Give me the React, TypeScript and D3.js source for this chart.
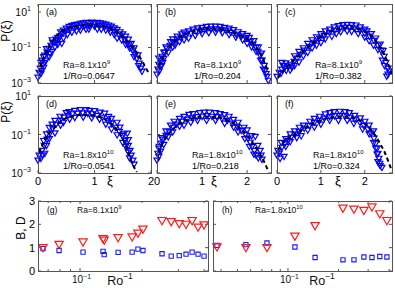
import React, { useEffect, useRef } from 'react'
import * as d3 from 'd3'

// PDF panels: [xi, log10 P(xi)]
const pdfA = [[0,-2.66],[0.02,-2.38],[0.04,-2.15],[0.05,-1.82],[0.07,-2.27],[0.07,-1.7],[0.09,-1.93],[0.12,-1.82],[0.12,-1.42],[0.16,-1.25],[0.19,-1.03],[0.21,-1.31],[0.23,-0.86],[0.26,-0.69],[0.3,-0.69],[0.32,-0.52],[0.35,-0.58],[0.35,-0.41],[0.39,-0.35],[0.42,-0.75],[0.44,-0.18],[0.49,-0.07],[0.56,0.04],[0.65,0.12],[0.74,0.18],[0.82,0.22],[0.91,0.25],[1.0,0.22],[1.09,0.25],[1.18,0.18],[1.26,0.08],[1.35,-0.07],[1.44,-0.3],[1.53,-0.52],[1.58,-0.75],[1.61,-0.8],[1.65,-1.03],[1.68,-1.14],[1.72,-1.37],[1.75,-1.59],[1.79,-1.87],[1.82,-2.15],[1.84,-2.32],
  [0.5,0.1],[0.6,0.26],[0.7,0.33],[0.8,0.4],[0.9,0.42],[1.0,0.4],[1.1,0.4],[1.2,0.33],[1.3,0.22],[1.4,0.03],[1.5,-0.22],[1.6,-0.52],
  [0.6,-0.12],[0.75,0.0],[0.9,0.06],[1.05,0.06],[1.2,0.0],[1.35,-0.25],[1.48,-0.55],[1.62,-1.0],[0.3,-0.95],[0.2,-1.5],
  [0.1,-1.5],[0.15,-1.05],[0.25,-0.55],[0.4,-0.1],[0.45,0.0],[0.55,0.2],[0.65,0.3],[0.75,0.38],[0.85,0.43],[0.95,0.45],[1.05,0.43],[1.15,0.38],[1.25,0.28],[1.35,0.12],[1.45,-0.1],[1.55,-0.35],[1.65,-0.75],[1.7,-1.0],[1.77,-1.4],
  [0.05,-2.45],[0.1,-2.1],[0.14,-1.7],[0.25,-1.2],[0.35,-0.8],[0.45,-0.45],[0.52,-0.25],[0.68,-0.05],[0.85,0.05],[1.12,0.05],[1.28,-0.12],[1.4,-0.45],[1.55,-0.8],[1.7,-1.5],[1.78,-2.0]]
const fitA = [[0,-2.49],[0.07,-1.82],[0.18,-1.03],[0.3,-0.46],[0.47,-0.01],[0.65,0.18],[0.88,0.25],[1.09,0.22],[1.26,0.1],[1.44,-0.24],[1.58,-0.63],[1.7,-1.08],[1.81,-1.59],[1.89,-2.04],[1.96,-2.44]]

const pdfB = [[0,-2.49],[0.02,-2.21],[0.04,-1.93],[0.09,-1.7],[0.11,-1.48],[0.18,-1.25],[0.22,-1.03],[0.29,-0.86],[0.36,-0.69],[0.44,-0.52],[0.53,-0.41],[0.64,-0.3],[0.76,-0.18],[0.87,-0.07],[0.98,-0.01],[1.09,0.04],[1.2,0.07],[1.31,0.07],[1.42,0.04],[1.53,-0.01],[1.64,-0.13],[1.76,-0.24],[1.87,-0.35],[1.98,-0.46],[2.07,-0.63],[2.13,-0.8],[2.2,-0.97],[2.24,-1.2],[2.29,-1.42],[2.33,-1.7],[2.38,-1.99],[2.4,-2.27],[2.44,-2.61],[2.47,-2.83],
  [0.07,-2.04],[0.13,-1.82],[0.04,-1.59],
  [0.6,-0.12],[0.9,0.12],[1.2,0.22],[1.5,0.15],[1.8,-0.1],[2.05,-0.42],[0.35,-0.5],[0.15,-1.25],
  [0.7,-0.45],[1.0,-0.2],[1.3,-0.12],[1.6,-0.25],[1.9,-0.55],[2.2,-1.2],[0.4,-0.85],[0.1,-2.0],[0.05,-2.3],
  [0.2,-0.95],[0.3,-0.65],[0.45,-0.35],[0.55,-0.22],[0.7,-0.05],[0.8,0.05],[1.0,0.15],[1.1,0.2],[1.3,0.22],[1.4,0.2],[1.6,0.1],[1.7,0.02],[1.9,-0.2],[2.0,-0.3],[2.15,-0.6],[2.25,-0.95],[2.32,-1.3],
  [0.15,-1.6],[0.25,-1.25],[0.35,-0.95],[0.5,-0.65],[0.6,-0.55],[0.85,-0.3],[1.15,-0.15],[1.45,-0.15],[1.75,-0.4],[2.0,-0.75],[2.1,-0.95],[2.3,-1.7],[2.36,-2.2],[2.42,-2.45]]
const fitB = [[0.04,-2.04],[0.16,-1.42],[0.31,-0.86],[0.49,-0.46],[0.71,-0.18],[0.93,-0.01],[1.16,0.07],[1.38,0.04],[1.6,-0.07],[1.82,-0.3],[2.0,-0.52],[2.16,-0.86],[2.27,-1.25],[2.38,-1.82],[2.47,-2.38]]

const pdfC = [[0,-2.61],[0.05,-2.38],[0.11,-2.21],[0.18,-2.1],[0.25,-2.04],[0.32,-1.93],[0.39,-1.76],[0.46,-1.59],[0.53,-1.37],[0.62,-1.14],[0.74,-0.92],[0.85,-0.69],[0.97,-0.46],[1.08,-0.3],[1.2,-0.13],[1.31,-0.01],[1.43,0.1],[1.54,0.15],[1.66,0.15],[1.77,0.1],[1.89,-0.01],[2.0,-0.18],[2.11,-0.35],[2.21,-0.58],[2.3,-0.86],[2.37,-1.14],[2.44,-1.48],[2.48,-1.82],[2.53,-2.15],[2.53,-2.49],
  [0.09,-2.44],[0.21,-2.27],[0.34,-2.1],[0.14,-1.99],[0.11,-1.82],
  [1.2,0.05],[1.5,0.3],[1.8,0.28],[2.05,-0.05],[0.8,-0.55],[0.5,-1.2],
  [1.0,-0.7],[1.35,-0.2],[1.7,-0.08],[2.0,-0.4],[2.3,-1.1],[0.6,-1.45],[0.3,-2.25],[2.5,-2.6],
  [0.2,-1.85],[0.4,-1.45],[0.6,-1.0],[0.7,-0.75],[0.9,-0.38],[1.0,-0.2],[1.1,-0.05],[1.3,0.18],[1.4,0.25],[1.6,0.32],[1.7,0.3],[1.9,0.18],[2.0,0.05],[2.15,-0.2],[2.25,-0.45],[2.35,-0.8],[2.42,-1.15],
  [0.4,-2.0],[0.5,-1.8],[0.7,-1.25],[0.8,-1.0],[0.9,-0.85],[1.1,-0.5],[1.25,-0.35],[1.45,-0.1],[1.6,-0.05],[1.85,-0.2],[2.1,-0.6],[2.2,-0.85],[2.4,-1.7],[2.45,-2.0],[2.55,-2.3]]
const fitC = [[0.02,-2.72],[0.16,-2.27],[0.32,-1.87],[0.51,-1.42],[0.74,-0.92],[0.97,-0.46],[1.2,-0.13],[1.43,0.07],[1.66,0.13],[1.89,0.01],[2.11,-0.3],[2.3,-0.8],[2.44,-1.37],[2.55,-2.04],[2.62,-2.55]]

const pdfD = [[0,-2.32],[0.02,-2.06],[0.05,-2.22],[0.07,-1.81],[0.11,-1.55],[0.12,-1.96],[0.16,-1.23],[0.21,-0.92],[0.26,-0.66],[0.32,-0.45],[0.39,-0.25],[0.46,-0.09],[0.53,0.01],[0.61,0.09],[0.7,0.12],[0.79,0.14],[0.88,0.12],[0.96,0.09],[1.05,0.01],[1.14,-0.09],[1.23,-0.25],[1.3,-0.4],[1.37,-0.61],[1.44,-0.82],[1.49,-1.03],[1.54,-1.29],[1.6,-1.55],[1.63,-1.81],[1.65,-2.06],[1.68,-2.32],[1.7,-2.53],
  [0.39,-0.04],[0.65,0.27],[0.91,0.27],[1.18,0.12],[1.4,-0.35],[1.58,-0.92],[0.2,-0.62],
  [0.56,-0.19],[0.8,-0.08],[1.09,-0.19],[1.3,-0.7],[1.5,-1.4],[0.3,-0.9],
  [0.1,-1.3],[0.15,-0.95],[0.25,-0.45],[0.3,-0.25],[0.5,0.15],[0.55,0.2],[0.75,0.3],[0.85,0.3],[1.0,0.25],[1.1,0.18],[1.25,-0.05],[1.3,-0.15],[1.45,-0.6],[1.52,-0.95],[1.6,-1.25],
  [0.08,-2.05],[0.15,-1.55],[0.2,-1.2],[0.4,-0.5],[0.45,-0.35],[0.65,-0.1],[0.95,-0.12],[1.2,-0.45],[1.4,-1.0],[1.55,-1.6],[1.6,-1.9],[1.62,-2.2]]
const fitD = [[0.02,-1.96],[0.12,-1.29],[0.25,-0.77],[0.39,-0.35],[0.56,-0.09],[0.74,0.01],[0.91,0.01],[1.09,-0.09],[1.26,-0.35],[1.4,-0.77],[1.51,-1.29],[1.61,-2.06],[1.68,-2.58],[1.75,-2.95]]

const pdfE = [[0,-2.32],[0.02,-1.96],[0.04,-1.7],[0.09,-1.44],[0.13,-1.23],[0.2,-1.03],[0.27,-0.82],[0.36,-0.61],[0.44,-0.45],[0.56,-0.3],[0.67,-0.19],[0.78,-0.12],[0.89,-0.06],[1.0,-0.04],[1.11,-0.01],[1.22,-0.04],[1.33,-0.06],[1.44,-0.14],[1.56,-0.25],[1.67,-0.4],[1.78,-0.56],[1.87,-0.77],[1.96,-0.97],[2.02,-1.18],[2.07,-1.39],[2.11,-1.6],[2.16,-1.81],[2.2,-2.06],
  [0.04,-2.12],[2.18,-1.08],[2.24,-1.55],[2.29,-1.81],[2.31,-2.06],[2.33,-2.27],
  [0.38,-0.3],[0.71,0.06],[1.16,0.17],[1.6,-0.04],[1.93,-0.61],
  [0.5,-0.55],[0.9,-0.25],[1.3,-0.25],[1.7,-0.6],
  [0.05,-1.6],[0.1,-1.15],[0.2,-0.8],[0.3,-0.5],[0.5,-0.15],[0.6,-0.05],[0.8,0.1],[0.95,0.15],[1.05,0.18],[1.3,0.15],[1.4,0.1],[1.5,0.05],[1.7,-0.2],[1.8,-0.35],[2.0,-0.75],[2.1,-1.05],
  [0.08,-1.85],[0.15,-1.5],[0.25,-1.1],[0.35,-0.85],[0.6,-0.5],[0.75,-0.35],[1.1,-0.25],[1.5,-0.4],[1.8,-0.85],[1.95,-1.2],[2.05,-1.6],[2.15,-2.0],[2.25,-2.2]]
const fitE = [[0,-2.32],[0.09,-1.65],[0.22,-1.08],[0.38,-0.66],[0.6,-0.3],[0.82,-0.14],[1.04,-0.06],[1.27,-0.09],[1.49,-0.19],[1.71,-0.45],[1.93,-0.87],[2.11,-1.39],[2.27,-1.96],[2.38,-2.43],[2.47,-2.9]]

const pdfF = [[0,-2.06],[0.02,-1.81],[0.07,-2.22],[0.11,-1.65],[0.16,-2.12],[0.18,-1.44],[0.25,-1.29],[0.32,-1.13],[0.41,-0.97],[0.51,-0.82],[0.62,-0.66],[0.74,-0.51],[0.85,-0.35],[0.97,-0.25],[1.08,-0.14],[1.2,-0.06],[1.31,-0.01],[1.43,0.01],[1.54,-0.01],[1.66,-0.09],[1.77,-0.19],[1.89,-0.35],[1.98,-0.51],[2.07,-0.71],[2.14,-0.92],[2.21,-1.18],[2.25,-1.44],[2.28,-1.7],[2.3,-1.96],[2.32,-2.22],[2.34,-2.48],[2.39,-2.69],
  [0.51,-0.61],[0.97,-0.04],[1.43,0.22],[1.77,0.01],[2.0,-0.3],
  [0.7,-0.75],[1.2,-0.25],[1.6,-0.25],[2.1,-0.95],[2.3,-2.4],[2.35,-2.6],
  [0.1,-1.4],[0.2,-1.2],[0.3,-0.95],[0.4,-0.8],[0.6,-0.5],[0.75,-0.3],[0.85,-0.15],[1.1,0.08],[1.2,0.15],[1.3,0.2],[1.55,0.2],[1.65,0.15],[1.9,-0.12],[2.1,-0.5],[2.2,-0.8],
  [0.05,-1.95],[0.2,-1.6],[0.3,-1.35],[0.45,-1.15],[0.55,-1.05],[0.85,-0.6],[1.0,-0.45],[1.4,-0.25],[1.75,-0.4],[1.95,-0.7],[2.2,-1.4],[2.25,-1.7],[2.28,-2.0]]
const fitF = [[0.02,-1.81],[0.16,-1.39],[0.39,-1.03],[0.62,-0.71],[0.85,-0.4],[1.08,-0.19],[1.31,-0.09],[1.54,-0.06],[1.77,-0.17],[2.0,-0.45],[2.18,-0.87],[2.34,-1.44],[2.46,-1.96],[2.55,-2.48],[2.62,-2.9]]

// (g) Ra=8.1e9 and (h) Ra=1.8e10: 1/Ro, B (triangles), D (squares)
const roG = [0.0661,0.0791,0.1034,0.1293,0.131,0.153,0.179,0.191,0.202,0.25,0.277,0.303,0.327,0.35,0.374,0.4]
const bG = [1.03,1.17,1.27,1.41,1.35,1.46,1.49,1.65,1.82,2.19,2.14,2.06,2.03,2.19,1.91,2.0]
const dG = [0.96,0.88,0.81,0.84,0.7,0.8,0.81,0.94,0.88,0.74,0.64,0.66,0.72,0.81,0.72,0.64]
const roH = [0.0378,0.0562,0.075,0.11,0.145,0.2125,0.247,0.283,0.316,0.352,0.388]
const bH = [1.06,1.03,1.03,1.52,1.97,2.72,2.68,2.62,2.77,2.48,2.19]
const dH = [1.1,1.13,1.2,1.03,0.58,0.48,0.48,0.6,0.58,0.62,0.6]

const cols = [{ l: 38, r: 151, xmax: 2, xl: 110 }, { l: 157, r: 271, xmax: 2.53, xl: 214 }, { l: 277, r: 392, xmax: 2.62, xl: 338 }]
const rows = [{ t: 4, b: 83, ytop: Math.pow(10, 1.45), py: 31 }, { t: 96, b: 173, ytop: 10, py: 112 }]
const panels = [
  { tag: '(a)', pts: pdfA, fit: fitA, c: 0, r: 0, ra: '8.1', e: '9', ro: '0.0647', tx: 25 },
  { tag: '(b)', pts: pdfB, fit: fitB, c: 1, r: 0, ra: '8.1', e: '9', ro: '0.204', tx: 37 },
  { tag: '(c)', pts: pdfC, fit: fitC, c: 2, r: 0, ra: '8.1', e: '9', ro: '0.382', tx: 38 },
  { tag: '(d)', pts: pdfD, fit: fitD, c: 0, r: 1, ra: '1.8', e: '10', ro: '0.0541', tx: 25 },
  { tag: '(e)', pts: pdfE, fit: fitE, c: 1, r: 1, ra: '1.8', e: '10', ro: '0.218', tx: 35 },
  { tag: '(f)', pts: pdfF, fit: fitF, c: 2, r: 1, ra: '1.8', e: '10', ro: '0.324', tx: 36 },
]

const FONT = 'Liberation Sans, Arial, Helvetica, sans-serif'
const AX = '#555'

function App() {
  const ref = useRef(null)

  useEffect(() => {
    const svg = d3.select(ref.current)
    svg.selectAll('*').remove()
    svg.style('font-family', FONT)

    const tri = d3.symbol().type(d3.symbolTriangle).size(16)()
    const sq = d3.symbol().type(d3.symbolSquare).size(18)()

    const frame = (l, r, t, b) => {
      svg.append('rect').attr('x', l + 0.5).attr('y', t + 0.5).attr('width', r - l).attr('height', b - t)
        .attr('fill', 'none').attr('stroke', AX).attr('stroke-width', 1)
    }
    const sup = (sel, x, y, base, ex, fs, anchor) => {
      const t = sel.append('text').attr('x', x).attr('y', y).attr('font-size', fs).attr('text-anchor', anchor).attr('fill', '#111')
      t.append('tspan').text(base)
      t.append('tspan').attr('dy', -fs * 0.45).attr('font-size', fs * 0.68).text(ex)
      return t
    }

    panels.forEach((p, i) => {
      const C = cols[p.c], R = rows[p.r]
      const x = d3.scaleLinear().domain([0, C.xmax]).range([C.l, C.r])
      const y = d3.scaleLog().domain([1e-3, R.ytop]).range([R.b, R.t])

      svg.append('clipPath').attr('id', 'clip' + i).append('rect')
        .attr('x', C.l).attr('y', R.t).attr('width', C.r - C.l).attr('height', R.b - R.t)

      // ticks
      const g = svg.append('g')
      ;[0, 1, 2].forEach(v => {
        g.append('line').attr('x1', x(v)).attr('x2', x(v)).attr('y1', R.b).attr('y2', R.b - 3).attr('stroke', AX)
        g.append('line').attr('x1', x(v)).attr('x2', x(v)).attr('y1', R.t).attr('y2', R.t + 3).attr('stroke', AX)
      })
      ;[1e-3, 1e-1, 10].forEach(v => {
        g.append('line').attr('x1', C.l).attr('x2', C.l + 3).attr('y1', y(v)).attr('y2', y(v)).attr('stroke', AX)
        g.append('line').attr('x1', C.r).attr('x2', C.r - 3).attr('y1', y(v)).attr('y2', y(v)).attr('stroke', AX)
      })

      svg.append('g').selectAll('path').data(p.pts).enter().append('path')
        .attr('d', tri)
        .attr('transform', d => 'translate(' + x(d[0]) + ',' + y(Math.pow(10, d[1])) + ') rotate(180)')
        .attr('fill', 'none').attr('stroke', '#0000ff').attr('stroke-width', 1.2)

      const line = d3.line().curve(d3.curveMonotoneX).x(d => x(d[0])).y(d => y(Math.pow(10, d[1])))
      svg.append('path').datum(p.fit).attr('d', line).attr('clip-path', 'url(#clip' + i + ')')
        .attr('fill', 'none').attr('stroke', '#000').attr('stroke-width', 2).attr('stroke-dasharray', '4,3')

      frame(C.l, C.r, R.t, R.b)

      svg.append('text').attr('x', C.l + 8).attr('y', R.t + 11).attr('font-size', 9).text(p.tag)
      sup(svg, C.l + p.tx, R.b - 15, 'Ra=' + p.ra + 'x10', p.e, 9, 'start')
      svg.append('text').attr('x', C.l + p.tx).attr('y', R.b - 4).attr('font-size', 9).text('1/Ro=' + p.ro)

      if (p.c === 0) {
        sup(svg, 31, y(10) + 4, '10', '1', 10.5, 'end')
        sup(svg, 31, y(1e-1) + 4, '10', '\u22121', 10.5, 'end')
        sup(svg, 31, y(1e-3) + 4, '10', '\u22123', 10.5, 'end')
        svg.append('text').attr('transform', 'translate(10,' + R.py + ') rotate(-90)')
          .attr('text-anchor', 'middle').attr('font-size', 12).text('P(\u03be)')
      }
      if (p.r === 1) {
        ;[0, 1, 2].forEach(v => {
          svg.append('text').attr('x', x(v)).attr('y', 185).attr('text-anchor', 'middle').attr('font-size', 11).text(v)
        })
        svg.append('text').attr('x', C.xl).attr('y', 185).attr('text-anchor', 'middle').attr('font-size', 13).text('\u03be')
      }
    })

    // B, D panels
    const bd = [
      { tag: '(g)', ra: '8.1', e: '9', l: 38, r: 208, dom: [0.0625, 0.418], ro: roG, b: bG, d: dG, lab: 120 },
      { tag: '(h)', ra: '1.8', e: '10', l: 213, r: 392, dom: [0.0358, 0.416], ro: roH, b: bH, d: dH, lab: 322 },
    ]
    const top = 201, bot = 271
    bd.forEach((p, i) => {
      const x = d3.scaleLog().domain(p.dom).range([p.l, p.r])
      const y = d3.scaleLinear().domain([0, 3]).range([bot, top])
      const g = svg.append('g')
      ;[0, 1, 2, 3].forEach(v => {
        g.append('line').attr('x1', p.l).attr('x2', p.l + 3).attr('y1', y(v)).attr('y2', y(v)).attr('stroke', AX)
        g.append('line').attr('x1', p.r).attr('x2', p.r - 3).attr('y1', y(v)).attr('y2', y(v)).attr('stroke', AX)
        if (i === 0) svg.append('text').attr('x', 35).attr('y', y(v) + 4).attr('text-anchor', 'end').attr('font-size', 11).text(v)
      })
      x.ticks().filter(v => v > p.dom[0] && v < p.dom[1]).forEach(v => {
        const major = Math.abs(v - 0.1) < 1e-9
        const len = major ? 3 : 2
        g.append('line').attr('x1', x(v)).attr('x2', x(v)).attr('y1', bot).attr('y2', bot - len).attr('stroke', AX)
        g.append('line').attr('x1', x(v)).attr('x2', x(v)).attr('y1', top).attr('y2', top + len).attr('stroke', AX)
      })
      sup(svg, x(0.1) - 8, 283, '10', '\u22121', 10, 'start')
      sup(svg, p.lab, 285, 'Ro', '\u22121', 12.5, 'middle')

      svg.append('g').selectAll('path').data(p.d).enter().append('path')
        .attr('d', sq).attr('transform', (d, k) => 'translate(' + x(p.ro[k]) + ',' + y(d) + ')')
        .attr('fill', 'none').attr('stroke', '#1a1aff').attr('stroke-width', 1.1)
      svg.append('g').selectAll('path').data(p.b).enter().append('path')
        .attr('d', d3.symbol().type(d3.symbolTriangle).size(30)())
        .attr('transform', (d, k) => 'translate(' + x(p.ro[k]) + ',' + y(d) + ') rotate(180)')
        .attr('fill', 'none').attr('stroke', '#ff1a1a').attr('stroke-width', 1.2)

      frame(p.l, p.r, top, bot)
      svg.append('text').attr('x', p.l + 9).attr('y', top + 12).attr('font-size', 8.5).text(p.tag)
      sup(svg, p.l + (i === 0 ? 39 : 42), top + 12, 'Ra=' + p.ra + 'x10', p.e, 8.5, 'start')
    })
    svg.append('text').attr('transform', 'translate(25,228) rotate(-90)')
      .attr('text-anchor', 'middle').attr('font-size', 12).text('B, D')
  }, [])

  return (
    <svg ref={ref} width={395} height={288} style={{ position: 'absolute', left: 0, top: 0, background: '#fff' }}></svg>
  )
}

export default App
